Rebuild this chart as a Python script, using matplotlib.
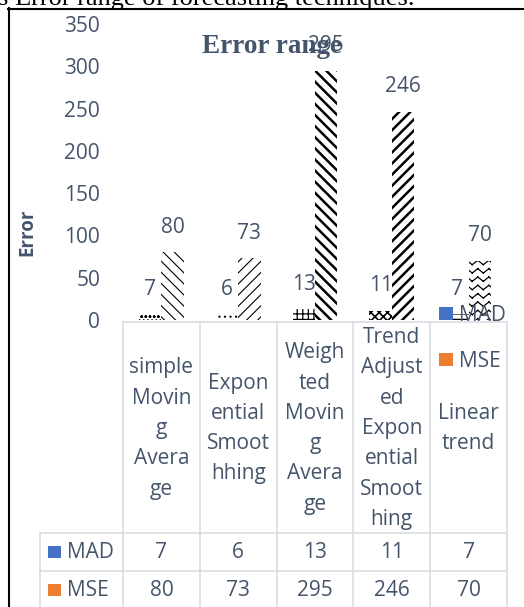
import warnings
import numpy as np
import matplotlib
matplotlib.use("Agg")
import matplotlib.pyplot as plt
import matplotlib.hatch as mhatch
from matplotlib.path import Path
from matplotlib.patches import Patch, Rectangle
from matplotlib.lines import Line2D

warnings.filterwarnings("ignore")

# ---- data -------------------------------------------------------------
categories = [
    "simple\nMovin\ng\nAvera\nge",
    "Expon\nential\nSmoot\nhhing",
    "Weigh\nted\nMovin\ng\nAvera\nge",
    "Trend\nAdjust\ned\nExpon\nential\nSmoot\nhing",
    "Linear\ntrend",
]
mad = [7, 6, 13, 11, 7]
mse = [80, 73, 295, 246, 70]
series_names = ["MAD", "MSE"]
y_ticks = [0, 50, 100, 150, 200, 250, 300, 350]

# ---- style ------------------------------------------------------------
W, H = 524, 607
TEXT = "#44546A"
GRID = "#D9DDE3"
BLUE = "#4472C4"
ORANGE = "#ED7D31"
FONT = "Open Sans"
FS = 15


class ZigZagHatch(mhatch.HatchPatternBase):
    """Wave-like zigzag hatch, selected with the 'z' character.

    Every stroke is its own MOVETO/LINETO pair so that the renderer's
    hatch fill cannot close the zigzag into solid triangles.
    """

    def __init__(self, hatch, density):
        self.num_rows = int(hatch.count('z') * density)
        self.teeth = 9
        self.segs = 2 * self.teeth
        self.num_vertices = self.num_rows * self.segs * 2

    def set_vertices_and_codes(self, vertices, codes):
        if self.num_rows == 0:
            return
        xs = np.linspace(0.0, 1.0, self.segs + 1)
        amp = np.where(np.arange(self.segs + 1) % 2 == 0, 0.022, -0.022)
        k = 0
        for r in range(self.num_rows):
            y = (r + 0.5) / self.num_rows
            for s in range(self.segs):
                vertices[k] = (xs[s], y + amp[s])
                vertices[k + 1] = (xs[s + 1], y + amp[s + 1])
                codes[k] = Path.MOVETO
                codes[k + 1] = Path.LINETO
                k += 2


mhatch._hatch_types.append(ZigZagHatch)


def px_box(x0, y0, x1, y1):
    return [x0 / W, 1 - y1 / H, (x1 - x0) / W, (y1 - y0) / H]


fig = plt.figure(figsize=(W / 100, H / 100), dpi=100)

# ---- chart ------------------------------------------------------------
ax = fig.add_axes(px_box(123, 24, 507, 320))
ax.patch.set_alpha(0)
x = np.arange(len(categories))
bw, off = 0.29, 0.146

mad_hatches = ['oooo', '...', '+++', 'xxxx', '---']
mad_hlw = [0.7, 0.8, 0.9, 1.2, 1.0]
mse_hatches = ['\\\\\\', '///', '\\\\\\', '///', 'zz']
mse_hlw = [0.8, 0.8, 1.8, 1.8, 0.9]

mad_bars = ax.bar(x - off, mad, bw, color='white', edgecolor='black',
                  linewidth=0, label=series_names[0])
mse_bars = ax.bar(x + off, mse, bw, color='white', edgecolor='black',
                  linewidth=0, label=series_names[1])
for bars, hatches, lws in ((mad_bars, mad_hatches, mad_hlw),
                           (mse_bars, mse_hatches, mse_hlw)):
    for b, h, lw in zip(bars, hatches, lws):
        b.set_hatch(h)
        if hasattr(b, "set_hatch_linewidth"):
            b.set_hatch_linewidth(lw)

for xs, vals in ((x - off, mad), (x + off, mse)):
    for xi, v in zip(xs, vals):
        ax.annotate(str(v), (xi, v), xytext=(0, 18), textcoords='offset points',
                    ha='center', va='center', fontsize=FS, color=TEXT,
                    family=FONT, annotation_clip=False)

ax.set_xlim(-0.5, len(categories) - 0.5)
ax.set_ylim(0, 350)
ax.set_yticks(y_ticks)
ax.set_xticks([])
ax.tick_params(axis='y', length=0, pad=16.5, labelsize=FS, labelcolor=TEXT)
for lab in ax.get_yticklabels():
    lab.set_family(FONT)
for s in ax.spines.values():
    s.set_visible(False)

ax.set_ylabel("Error", fontsize=13.5, fontweight='bold', family=FONT, color=TEXT)
ax.yaxis.label.set(ha='center', va='center', rotation_mode='default')
ax.yaxis.set_label_coords((27 - 123) / 384, (320 - 232) / 296)

# ---- data table under the chart ---------------------------------------
tab = fig.add_axes([0, 0, 1, 1], zorder=-1)
tab.set_xlim(0, W)
tab.set_ylim(H, 0)
tab.axis('off')

edges = [ax.transData.transform((i - 0.5, 0))[0] for i in range(len(categories) + 1)]
centers = [(a + b) / 2 for a, b in zip(edges[:-1], edges[1:])]
row_left = 40
top_y, head_y, mad_y, bot_y = 322, 533, 571, 609
lk = dict(color=GRID, lw=1.2)

tab.plot([edges[0], edges[-1]], [top_y, top_y], **lk)
for yy in (head_y, mad_y):
    tab.plot([row_left, edges[-1]], [yy, yy], **lk)
for ex in edges:
    tab.plot([ex, ex], [top_y, bot_y], **lk)
tab.plot([row_left, row_left], [head_y, bot_y], **lk)

for cx, cat in zip(centers, categories):
    tab.text(cx, (top_y + head_y) / 2 + 1, cat, ha='center', va='center',
             linespacing=1.58, fontsize=FS, color=TEXT, family=FONT)

for name, vals, col, (y0, y1) in ((series_names[0], mad, BLUE, (head_y, mad_y)),
                                  (series_names[1], mse, ORANGE, (mad_y, bot_y))):
    yc = (y0 + y1) / 2
    tab.add_patch(Rectangle((48, yc - 6), 13, 12, color=col, lw=0))
    tab.text(67, yc, name, ha='left', va='center', fontsize=FS,
             color=TEXT, family=FONT)
    for cx, v in zip(centers, vals):
        tab.text(cx, yc, str(v), ha='center', va='center', fontsize=FS,
                 color=TEXT, family=FONT)

# ---- legend -----------------------------------------------------------
fig.legend(handles=[Patch(facecolor=BLUE), Patch(facecolor=ORANGE)],
           labels=series_names, loc='upper left',
           bbox_to_anchor=(439 / W, 1 - 305 / H), frameon=False,
           prop={'family': FONT, 'size': FS}, labelcolor=TEXT,
           handlelength=0.67, handleheight=0.62, handletextpad=0.3,
           labelspacing=1.2, borderaxespad=0, borderpad=0)

# ---- title, caption, frame ---------------------------------------------
fig.text(272.5 / W, 1 - 53 / H, "Error range", ha='center', va='baseline',
         fontsize=19.5, fontweight='bold', family='Liberation Serif', color=TEXT)
fig.text(415 / W, 1 - 5 / H, "s Error range of forecasting techniques.",
         ha='right', va='baseline', fontsize=19, family='Liberation Serif',
         color='black')
fig.add_artist(Line2D([8.5 / W, 8.5 / W], [0, 1 - 8 / H], color='black', lw=1.5))
fig.add_artist(Line2D([8 / W, 1], [1 - 8.5 / H, 1 - 8.5 / H], color='black', lw=1.5))

fig.savefig("out.png", dpi=100)
